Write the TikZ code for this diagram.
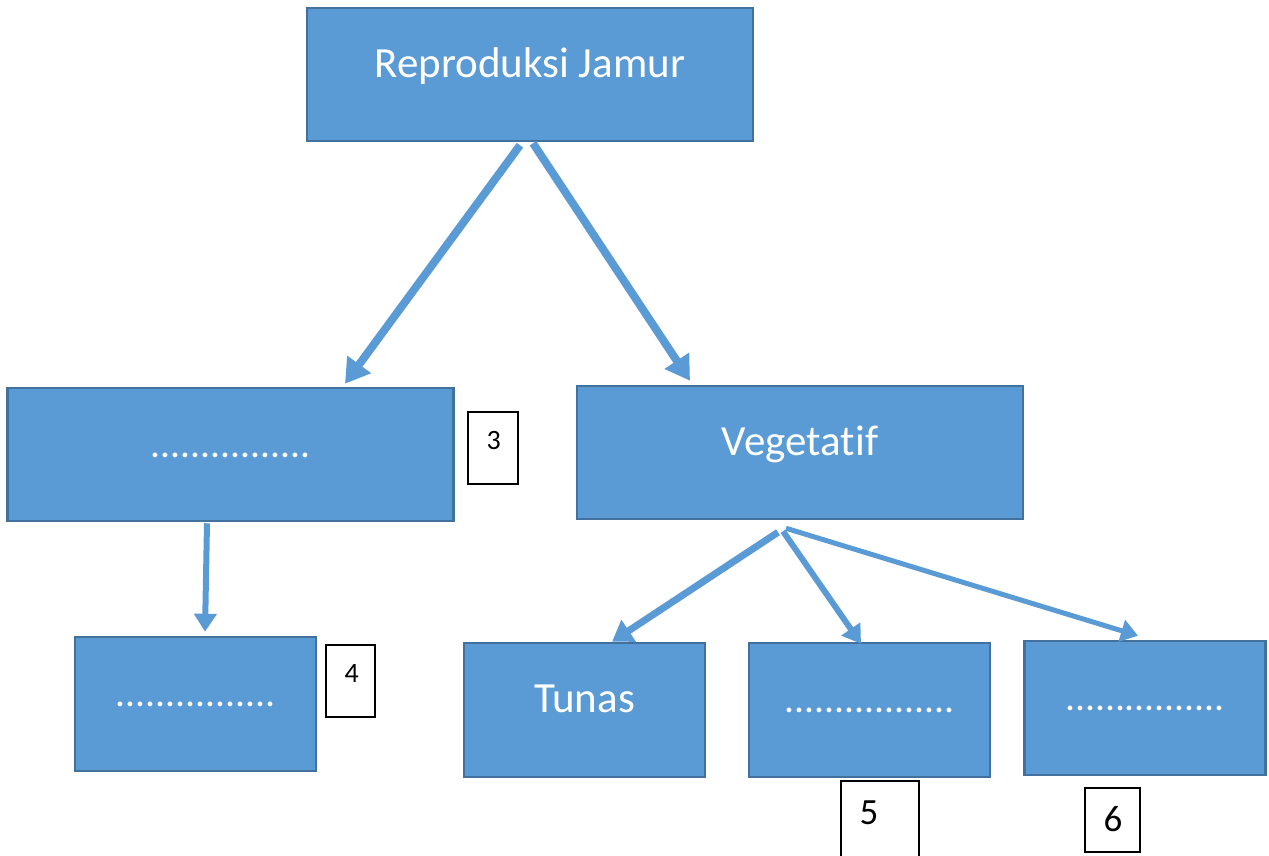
\documentclass[tikz,border=0pt]{standalone}
\usepackage{fontspec}
\setmainfont{Carlito}[Ligatures=NoCommon]
\usepackage{xcolor}
\usepackage{tikz}
\usetikzlibrary{positioning}
\usetikzlibrary{arrows.meta}
\definecolor{boxfill}{HTML}{5B9BD5}
\definecolor{boxline}{HTML}{41719C}
\newcommand{\blanks}[1]{{\fontsize{39.5}{47}\selectfont #1}}
\tikzstyle{bluebox}=[rectangle,fill=boxfill,draw=boxline,line width=2.5pt,inner sep=0pt,text=white,font=\fontsize{43}{51}\selectfont,text height=16pt,text depth=11pt]
\tikzstyle{numbox}=[rectangle,draw=black,line width=1.3pt,fill=white,inner sep=0pt]
\tikzstyle{numtext}=[inner sep=0pt,text depth=0pt]
\tikzstyle{link}=[draw,boxfill]
\tikzset{wide/.style={minimum width=446pt,minimum height=133pt},
         narrow/.style={minimum width=241pt,minimum height=134pt}}

\begin{document}
\begin{tikzpicture}[x=1pt,y=-1pt]

 \useasboundingbox (0,0) rectangle (1269,855);
 \clip (0,0) rectangle (1269,855);

 %big boxes
 \foreach \x/\y/\name/\label in {530/74.5/root/{Reproduksi Jamur}, 230.5/454.5/gen/{\blanks{................}}, 800/452.5/veg/{Vegetatif}}
   \node[bluebox,wide] (\name) at (\x,\y) {\label};

 %small boxes
 \foreach \x/\y/\name/\label in {195.5/704/genA/{\blanks{................}}, 584.5/710/tunas/{Tunas}, 869.5/710/vegB/{\blanks{.................}}, 1145/708/vegC/{\blanks{................}}}
   \node[bluebox,narrow] (\name) at (\x,\y) {\label};

 %numbers
 \foreach \x/\y/\w/\h/\name/\label/\fs/\th in {493/448/50/72/n3/3/28/18, 350.5/681/49/72/n4/4/28/18, 880/825.5/78/89/n5/5/37/23.5, 1112.5/820/55/64/n6/6/37/23.5}
 {
   \node[numbox,minimum width=\w pt,minimum height=\h pt] (\name) at (\x,\y) {};
   \node[numtext,text height=\th pt,font=\fontsize{\fs}{\fs}\selectfont,below right=20pt and 19pt of \name.north west] (\name t) {\label};
 }

 %arrows
 \foreach \source/\sx/\sy/\dest/\dx/\dy/\lw/\al/\aw in {root/-10/3/gen/114.5/-3/8/24/28, root/3/1/veg/-110/-4/8/24/28, gen/-23.5/1/genA/9.5/-4/6/18/22, veg/-22/12/tunas/27.5/0/7/20/25, veg/-17/11/vegB/-8.5/2/6/18/22, veg/-14/8/vegC/-7/-4/5/17/22}
   \path[link,line width=\lw pt,-{Triangle[length=\al pt,width=\aw pt]}] ([shift={(\sx,\sy)}]\source.south) -- ([shift={(\dx,\dy)}]\dest.north);

\end{tikzpicture}
\end{document}
